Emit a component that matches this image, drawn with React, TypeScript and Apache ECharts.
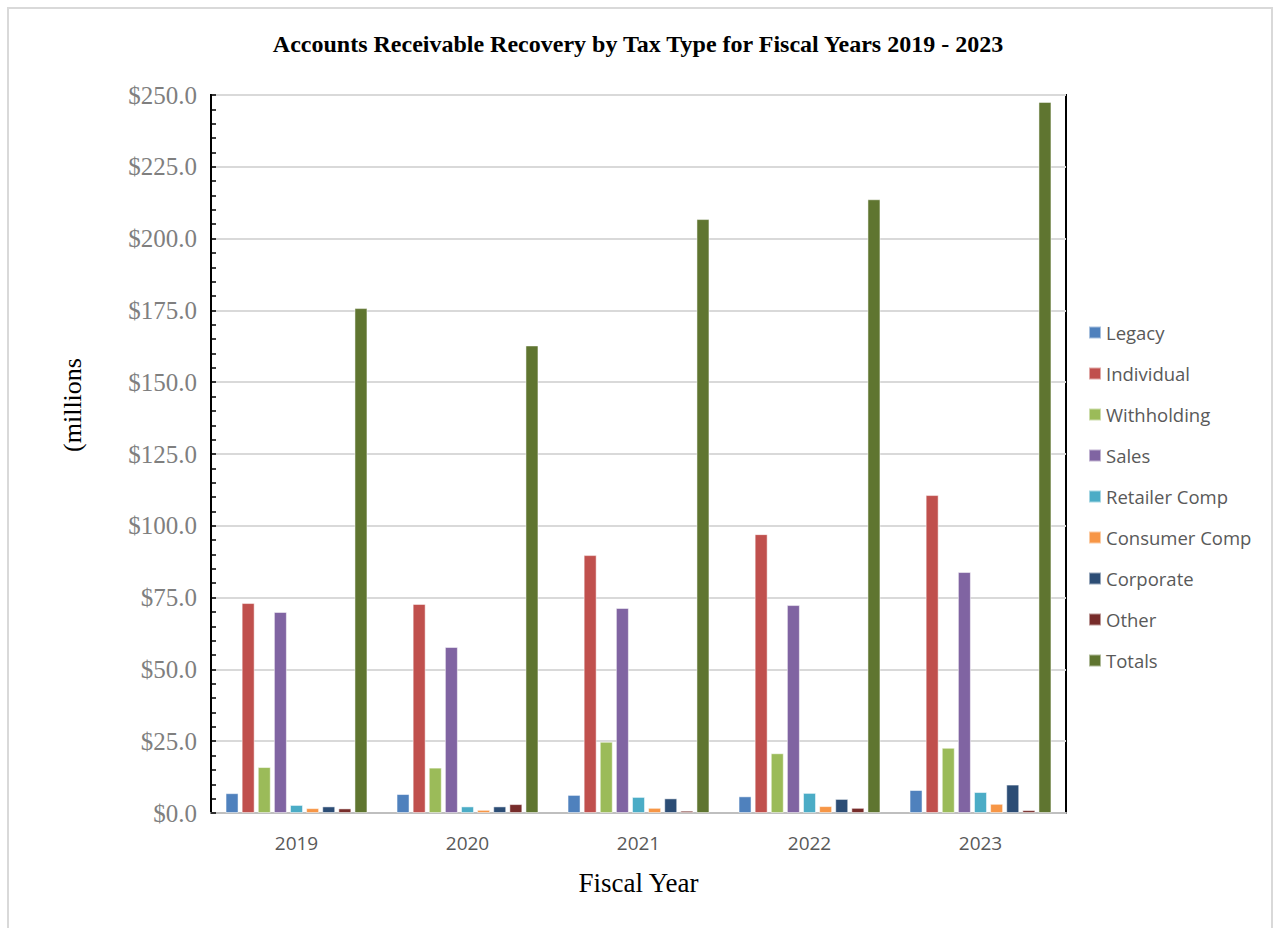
import React, { useEffect, useRef } from "react";
import * as echarts from "echarts";

const years = ["2019", "2020", "2021", "2022", "2023"];
const legacy = [6.9, 6.6, 6.3, 5.8, 8.0];
const individual = [73.1, 72.8, 89.8, 97.1, 110.7];
const withholding = [16.0, 15.8, 24.8, 20.8, 22.7];
const sales = [70.0, 57.8, 71.4, 72.4, 83.9];
const retailerComp = [2.8, 2.3, 5.6, 7.0, 7.3];
const consumerComp = [1.7, 1.1, 1.8, 2.4, 3.2];
const corporate = [2.3, 2.3, 5.1, 4.9, 9.9];
const other = [1.6, 3.1, 0.8, 1.8, 1.0];
const totals = [175.8, 162.8, 206.8, 213.7, 247.6];

const seriesNames = [
  "Legacy",
  "Individual",
  "Withholding",
  "Sales",
  "Retailer Comp",
  "Consumer Comp",
  "Corporate",
  "Other",
  "Totals",
];
const seriesData = [legacy, individual, withholding, sales, retailerComp, consumerComp, corporate, other, totals];
const colors = ["#4f81bd", "#c0504d", "#9bbb59", "#8064a2", "#4bacc6", "#f79646", "#2c4d75", "#772c2a", "#5f7530"];

export default function App() {
  const ref = useRef<HTMLDivElement>(null);
  useEffect(() => {
    document.body.style.margin = "0";
    const chart = echarts.init(ref.current!, null, { renderer: "svg" });
    chart.setOption({
      animation: false,
      backgroundColor: "#ffffff",
      color: colors,
      title: {
        text: "Accounts Receivable Recovery by Tax Type for Fiscal Years 2019 - 2023",
        left: "center",
        top: 27,
        textStyle: {
          fontFamily: "Liberation Serif",
          fontWeight: "bold",
          fontSize: 24,
          color: "#000",
        },
      },
      graphic: [
        {
          type: "rect",
          shape: { x: 8, y: 8, width: 1264, height: 940 },
          style: { fill: "none", stroke: "#d9d9d9", lineWidth: 2 },
          silent: true,
        },
        {
          type: "text",
          x: 72,
          y: 405,
          rotation: Math.PI / 2,
          style: {
            text: "(millions",
            fontFamily: "Liberation Serif",
            fontSize: 26,
            fill: "#000",
            align: "center",
            verticalAlign: "middle",
          },
          silent: true,
        },
      ],
      legend: {
        orient: "vertical",
        left: 1083,
        top: 318,
        itemWidth: 12,
        itemHeight: 12,
        itemGap: 22,
        icon: "rect",
        data: seriesNames,
        textStyle: { fontFamily: "Open Sans", fontSize: 18.5, color: "#595959" },
      },
      grid: {
        left: 211,
        top: 95,
        right: 210,
        bottom: 928 - 813,
        show: true,
        borderColor: "#000",
        borderWidth: 2,
        backgroundColor: "transparent",
      },
      xAxis: {
        type: "category",
        data: years,
        name: "Fiscal Year",
        nameLocation: "middle",
        nameGap: 56,
        nameTextStyle: { fontFamily: "Liberation Serif", fontSize: 27, color: "#000" },
        axisLine: { show: true, lineStyle: { color: "#bfbfbf", width: 2 } },
        axisTick: { show: false },
        axisLabel: { fontFamily: "Open Sans", fontSize: 19, color: "#595959", margin: 20 },
      },
      yAxis: {
        type: "value",
        min: 0,
        max: 250,
        interval: 25,
        axisLine: { show: true, lineStyle: { color: "#000", width: 2 } },
        axisTick: { show: true, inside: true, length: 5, lineStyle: { color: "#000", width: 1.5 } },
        minorTick: { show: true, splitNumber: 5, length: 5, lineStyle: { color: "#000", width: 1.5 } },
        splitLine: { show: true, lineStyle: { color: "#d9d9d9", width: 2 } },
        axisLabel: {
          fontFamily: "Liberation Serif",
          fontSize: 25,
          color: "#7f7f7f",
          margin: 14,
          formatter: (v: number) => "$" + v.toFixed(1),
        },
      },
      series: seriesNames.map((name, i) => ({
        name,
        type: "bar",
        data: seriesData[i],
        barGap: "24%",
        barCategoryGap: "17%",
        itemStyle: { color: colors[i], borderColor: "rgba(255,255,255,0.5)", borderWidth: 1 },
      })),
    });
    return () => chart.dispose();
  }, []);
  return <div ref={ref} style={{ width: 1276, height: 928 }} />;
}
